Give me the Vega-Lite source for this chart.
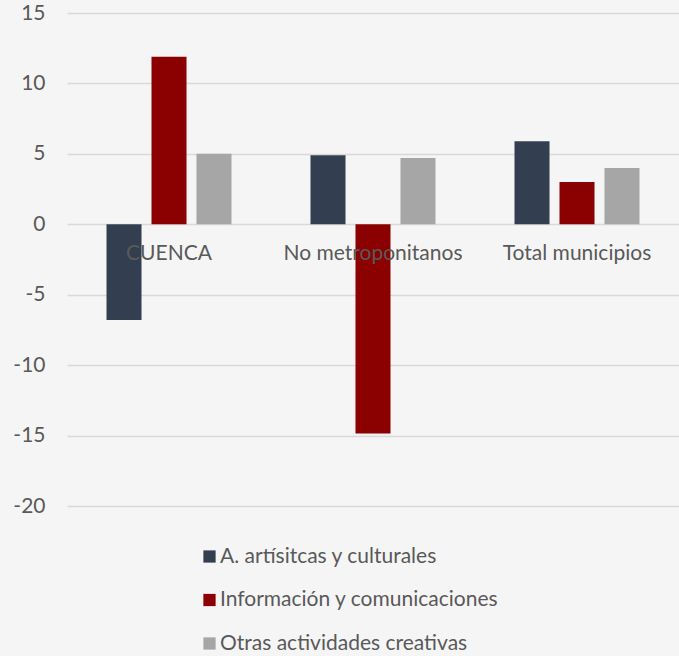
{
  "$schema": "https://vega.github.io/schema/vega-lite/v6.json",
  "width": 612,
  "height": 493,
  "autosize": {"type": "none"},
  "padding": {"left": 67, "top": 13, "right": 0, "bottom": 150},
  "background": "#f5f5f5",
  "config": {
    "view": {"stroke": null},
    "font": "Lato",
    "axis": {"labelFont": "Lato", "labelColor": "#595959"},
    "legend": {"labelFont": "Lato"}
  },
  "data": {
    "values": [
      {"region": "CUENCA", "serie": "A. artísitcas y culturales", "valor": -6.8},
      {"region": "CUENCA", "serie": "Información y comunicaciones", "valor": 11.9},
      {"region": "CUENCA", "serie": "Otras actividades creativas", "valor": 5.0},
      {"region": "No metroponitanos", "serie": "A. artísitcas y culturales", "valor": 4.9},
      {"region": "No metroponitanos", "serie": "Información y comunicaciones", "valor": -14.85},
      {"region": "No metroponitanos", "serie": "Otras actividades creativas", "valor": 4.7},
      {"region": "Total municipios", "serie": "A. artísitcas y culturales", "valor": 5.9},
      {"region": "Total municipios", "serie": "Información y comunicaciones", "valor": 3.0},
      {"region": "Total municipios", "serie": "Otras actividades creativas", "valor": 4.0}
    ]
  },
  "layer": [
    {
      "mark": {"type": "bar"},
      "encoding": {
        "x": {
          "field": "region", "type": "nominal", "sort": null,
          "scale": {"paddingInner": 0, "paddingOuter": 0},
          "axis": null
        },
        "xOffset": {
          "field": "serie", "type": "nominal", "sort": null,
          "scale": {"paddingInner": 0.222, "paddingOuter": 0.878}
        },
        "y": {
          "field": "valor", "type": "quantitative",
          "scale": {"domain": [-20, 15], "nice": false},
          "axis": {
            "values": [-20, -15, -10, -5, 0, 5, 10, 15],
            "labelExpr": "replace(datum.label, '−', '-')",
            "title": null, "domain": false, "ticks": false,
            "labelPadding": 22, "labelFontSize": 21,
            "gridColor": "#d9d9d9", "gridWidth": 1.5
          }
        },
        "color": {
          "field": "serie", "type": "nominal", "sort": null,
          "scale": {"range": ["#333f50", "#8b0000", "#a6a6a6"]},
          "legend": {
            "title": null, "orient": "none", "direction": "vertical",
            "legendX": 132, "legendY": 533,
            "symbolType": "square", "symbolSize": 150, "symbolStrokeWidth": 0,
            "labelFontSize": 21, "labelColor": "#595959", "labelOffset": 0,
            "rowPadding": 21.5, "labelLimit": 400
          }
        }
      }
    },
    {
      "mark": {"type": "text", "dy": 30, "fontSize": 21, "color": "#595959", "baseline": "middle", "align": "center"},
      "transform": [{"filter": "datum.serie === 'A. artísitcas y culturales'"}],
      "encoding": {
        "x": {"field": "region", "type": "nominal", "sort": null},
        "y": {"datum": 0},
        "text": {"field": "region"}
      }
    }
  ]
}
